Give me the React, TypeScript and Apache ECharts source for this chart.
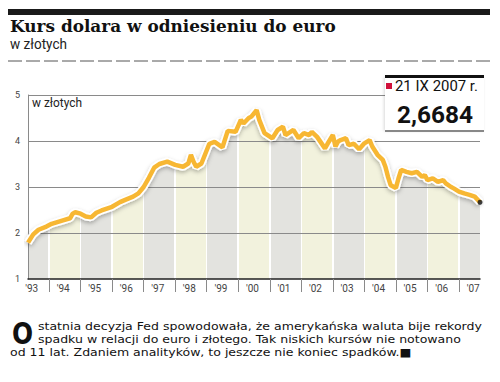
import React, { useEffect, useRef } from 'react';
import * as echarts from 'echarts';

// ---- data ----
const months = [
  '1993-05', '1993-07', '1993-09', '1993-12', '1994-02', '1994-06', '1994-09', '1994-10', '1994-11',
  '1995-01', '1995-03', '1995-05', '1995-07', '1995-09', '1995-11',
  '1996-01', '1996-04', '1996-06', '1996-09', '1996-11',
  '1997-01', '1997-03', '1997-05', '1997-07', '1997-10',
  '1998-01', '1998-04', '1998-06', '1998-07', '1998-08', '1998-09', '1998-11',
  '1999-02', '1999-04', '1999-07', '1999-09', '1999-12',
  '2000-02', '2000-03', '2000-05', '2000-06', '2000-08', '2000-09', '2000-11',
  '2001-02', '2001-04', '2001-06', '2001-07', '2001-10', '2001-12',
  '2002-02', '2002-04', '2002-05', '2002-07', '2002-10', '2002-11',
  '2003-01', '2003-02', '2003-03', '2003-04', '2003-06', '2003-07', '2003-09', '2003-11',
  '2004-01', '2004-03', '2004-04', '2004-06', '2004-08', '2004-09', '2004-10', '2004-11',
  '2005-01', '2005-02', '2005-03', '2005-05', '2005-07', '2005-09', '2005-11', '2005-12',
  '2006-01', '2006-03', '2006-05', '2006-07', '2006-08', '2006-10', '2006-11',
  '2007-01', '2007-03', '2007-05', '2007-07', '2007-09',
];
const values = [
  1.79, 1.97, 2.07, 2.14, 2.2, 2.27, 2.32, 2.42, 2.45,
  2.42, 2.36, 2.34, 2.44, 2.49, 2.53,
  2.57, 2.67, 2.72, 2.79, 2.86,
  3.0, 3.2, 3.42, 3.5, 3.55,
  3.48, 3.44, 3.51, 3.7, 3.55, 3.44, 3.51,
  3.94, 3.98, 3.86, 4.22, 4.2,
  4.46, 4.38, 4.5, 4.53, 4.67, 4.46, 4.17,
  4.06, 4.24, 4.31, 4.13, 4.24, 4.06,
  4.17, 4.13, 4.2, 4.09, 3.84, 3.94,
  4.13, 3.88, 3.99, 4.02, 4.06, 3.91, 3.94, 3.82,
  3.95, 4.02, 3.88, 3.7, 3.59, 3.44, 3.22, 3.04,
  2.98, 3.19, 3.37, 3.33, 3.3, 3.33, 3.22, 3.26,
  3.15, 3.19, 3.11, 3.15, 3.08, 3.0, 2.97,
  2.9, 2.86, 2.83, 2.79, 2.6684,
];
const years = [1993, 1994, 1995, 1996, 1997, 1998, 1999, 2000, 2001, 2002, 2003, 2004, 2005, 2006, 2007];
const yearLabels = ["'93", "'94", "'95", "'96", "'97", "'98", "'99", "'00", "'01", "'02", "'03", "'04", "'05", "'06", "'07"];
const yMin = 1;
const yMax = 5;
const gridValues = [2, 3, 4, 5];

const title = 'Kurs dolara w odniesieniu do euro';
const subtitle = 'w złotych';
const unitLabel = 'w złotych';
const lastDate = '21 IX 2007 r.';
const lastValueText = '2,6684';
const dropCap = 'O';
const paraLines = [
  'statnia decyzja Fed spowodowała, że amerykańska waluta bije rekordy',
  'spadku w relacji do euro i złotego. Tak niskich kursów nie notowano',
  'od 11 lat. Zdaniem analityków, to jeszcze nie koniec spadków.■',
];

function toYear(m: string) {
  const [y, mo] = m.split('-').map(Number);
  return y + (mo - 1) / 12;
}

function measure(text: string, family: string, weight: string, size: number) {
  const c = document.createElement('canvas');
  const ctx = c.getContext('2d')!;
  ctx.font = `${weight} ${size}px ${family}`;
  return ctx.measureText(text).width;
}
function fitSize(text: string, family: string, weight: string, targetW: number) {
  return (100 * targetW) / measure(text, family, weight, 100);
}
function fitScale(text: string, family: string, weight: string, size: number, targetW: number) {
  return targetW / measure(text, family, weight, size);
}

export default function App() {
  const ref = useRef<HTMLDivElement>(null);

  useEffect(() => {
    document.body.style.margin = '0';
    if (!ref.current) return;
    const chart = echarts.init(ref.current, undefined, { renderer: 'svg' });

    const tMin = toYear(months[0]);
    const tMax = toYear(months[months.length - 1]);
    const data = months.map((m, i) => [toYear(m), values[i]]);

    // year bands under the line
    const span = tMax - tMin;
    const gap = 1.6 / 452;
    const bounds = [0, ...years.slice(1).map((y) => (y - tMin) / span), 1];
    const stops: { offset: number; color: string }[] = [];
    for (let i = 0; i < bounds.length - 1; i++) {
      const c = i % 2 === 0 ? '#e3e3df' : '#f2f2dd';
      const s = i === 0 ? 0 : bounds[i] + gap / 2;
      const e = i === bounds.length - 2 ? 1 : bounds[i + 1] - gap / 2;
      if (i > 0) stops.push({ offset: s, color: '#ffffff' });
      stops.push({ offset: s, color: c });
      stops.push({ offset: e, color: c });
      if (i < bounds.length - 2) stops.push({ offset: e, color: '#ffffff' });
    }

    const labelPos = years.map((y) => y + 0.45);

    const sans = '"DejaVu Sans"';
    const paraFont = 11.2;
    const paraScale = fitScale(paraLines[0], sans, 'normal', paraFont, 444);
    const titleSize = fitSize(title, '"DejaVu Serif"', 'bold', 326);
    const subScale = fitScale(subtitle, 'Roboto', 'normal', 15, 57);
    const unitScale = fitScale(unitLabel, 'Roboto', 'normal', 13.5, 50);
    const dateScale = fitScale(lastDate, 'Roboto', 'normal', 14, 83);
    const valSize = fitSize(lastValueText, 'Roboto', 'bold', 76);

    const option: any = {
      animation: false,
      grid: { left: 28, right: 20, top: 95, bottom: 103 },
      xAxis: {
        type: 'value',
        min: tMin,
        max: tMax,
        z: 6,
        axisLine: { show: true, lineStyle: { color: '#222', width: 1.5 } },
        axisTick: {
          show: true,
          customValues: years.slice(1),
          length: 13,
          lineStyle: { color: '#8a8a8a', width: 1 },
        },
        axisLabel: {
          customValues: labelPos,
          formatter: (v: number) => yearLabels[Math.round(v - 0.45) - 1993],
          color: '#444',
          fontSize: 10,
          fontFamily: 'Roboto',
          margin: 4,
        },
        splitLine: { show: false },
      },
      yAxis: {
        type: 'value',
        min: yMin,
        max: yMax,
        interval: 1,
        z: 6,
        axisLine: { show: true, lineStyle: { color: '#8a8a8a', width: 1 } },
        axisTick: { show: false },
        axisLabel: { color: '#444', fontSize: 9, fontFamily: 'Roboto', margin: 8 },
        splitLine: { show: false },
      },
      series: [
        {
          type: 'line',
          data,
          symbol: 'none',
          z: 1,
          lineStyle: { width: 0, opacity: 0 },
          areaStyle: {
            opacity: 1,
            color: new echarts.graphic.LinearGradient(0, 0, 1, 0, stops),
          },
          silent: true,
          markLine: {
            silent: true,
            symbol: ['none', 'none'],
            label: { show: false },
            lineStyle: { color: '#8a8a8a', width: 1, type: 'solid' },
            data: [...gridValues.map((v) => ({ yAxis: v })), { xAxis: tMax }],
          },
        },
        {
          type: 'line',
          data,
          symbol: 'none',
          z: 9,
          silent: true,
          lineStyle: {
            width: 8,
            color: '#ffffff',
            shadowColor: 'rgba(0,0,0,0.28)',
            shadowBlur: 4,
            shadowOffsetY: 2,
          },
        },
        {
          type: 'line',
          data,
          symbol: 'none',
          z: 10,
          silent: true,
          lineStyle: { width: 4.5, color: '#f7b733' },
        },
        {
          type: 'scatter',
          data: [data[data.length - 1]],
          symbol: 'circle',
          symbolSize: 5,
          z: 11,
          silent: true,
          itemStyle: { color: '#111' },
        },
      ],
      graphic: [
        { type: 'rect', z: 100, shape: { x: 8, y: 9, width: 482, height: 6 }, style: { fill: '#1a1a1a' } },
        {
          type: 'text', z: 100, x: 10, y: 26,
          style: { text: title, fontFamily: 'DejaVu Serif', fontWeight: 'bold', fontSize: titleSize, fill: '#111', verticalAlign: 'middle' },
        },
        {
          type: 'text', z: 100, x: 10, y: 43.5, scaleX: subScale,
          style: { text: subtitle, fontFamily: 'Roboto', fontSize: 15, fill: '#222', verticalAlign: 'middle' },
        },
        {
          type: 'line', z: 100, shape: { x1: 8, y1: 61, x2: 490, y2: 61 },
          style: { stroke: '#555', lineWidth: 1, lineDash: [14, 4] },
        },
        {
          type: 'text', z: 100, x: 32, y: 102, scaleX: unitScale,
          style: { text: unitLabel, fontFamily: 'Roboto', fontSize: 13.5, fill: '#222', verticalAlign: 'middle' },
        },
        // last value box
        {
          type: 'rect', z: 100, shape: { x: 385, y: 77, width: 99, height: 54 },
          style: { fill: '#fff', shadowColor: 'rgba(0,0,0,0.15)', shadowBlur: 3, shadowOffsetX: -1 },
        },
        { type: 'rect', z: 101, shape: { x: 385, y: 75, width: 99, height: 3 }, style: { fill: '#111' } },
        { type: 'rect', z: 101, shape: { x: 385, y: 130, width: 99, height: 2 }, style: { fill: '#888' } },
        { type: 'rect', z: 101, shape: { x: 386, y: 83, width: 6, height: 6 }, style: { fill: '#d0103a' } },
        {
          type: 'text', z: 101, x: 395, y: 87, scaleX: dateScale,
          style: { text: lastDate, fontFamily: 'Roboto', fontSize: 14, fill: '#111', verticalAlign: 'middle' },
        },
        {
          type: 'text', z: 101, x: 397, y: 114,
          style: { text: lastValueText, fontFamily: 'Roboto', fontWeight: 'bold', fontSize: valSize, fill: '#111', verticalAlign: 'middle' },
        },
        // paragraph
        {
          type: 'text', z: 100, x: 12, y: 334, scaleX: 0.8,
          style: { text: dropCap, fontFamily: 'DejaVu Sans', fontWeight: 'bold', fontSize: 31, fill: '#111', verticalAlign: 'middle' },
        },
        ...paraLines.map((t, i) => ({
          type: 'text', z: 100, x: i < 2 ? 38 : 10, y: 326 + i * 13, scaleX: paraScale,
          style: { text: t, fontFamily: 'DejaVu Sans', fontSize: paraFont, lineHeight: 12, fill: '#111', verticalAlign: 'middle' },
        })),
      ],
    };

    chart.setOption(option);
    return () => chart.dispose();
  }, []);

  return <div ref={ref} style={{ width: 500, height: 382 }} />;
}
